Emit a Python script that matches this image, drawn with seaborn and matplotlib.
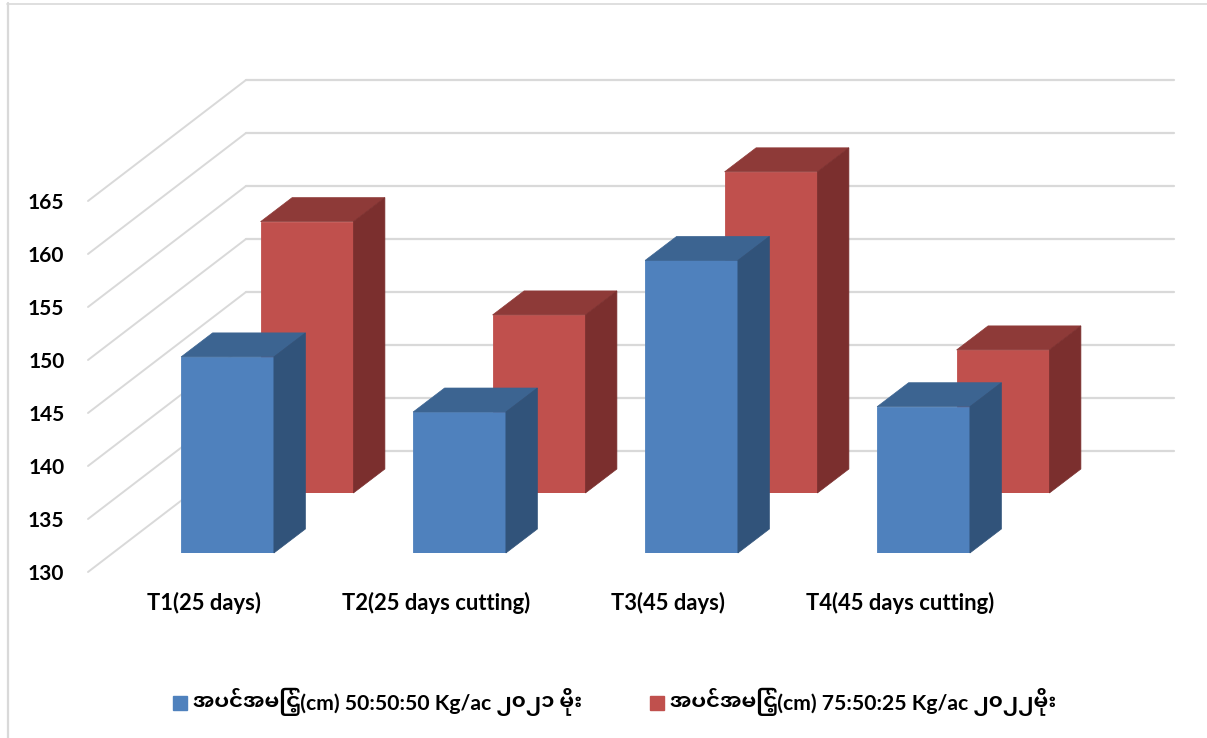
import matplotlib
matplotlib.use("Agg")
import matplotlib.pyplot as plt
from matplotlib.patches import Patch, Polygon
import seaborn as sns

# data
categories = ["T1(25 days)", "T2(25 days cutting)", "T3(45 days)", "T4(45 days cutting)"]
height_2021 = [148.5, 143.3, 157.6, 143.8]
height_2022 = [155.6, 146.8, 160.3, 143.5]
y_ticks = [130, 135, 140, 145, 150, 155, 160, 165]
label_2021 = "အပင်အမြင့်(cm) 50:50:50 Kg/ac ၂၀၂၁ မိုး"
label_2022 = "အပင်အမြင့်(cm) 75:50:25 Kg/ac ၂၀၂၂မိုး"

W, H = 1207, 738

# 3D look: every plane is the same axes moved back along the floor (pixels)
PLANE_L, PLANE_W, PLANE_BOTTOM, PLANE_H = 88, 928, 572, 371
BACK_SHIFT = (158, 121)
BLUE_SHIFT = (23.5, 19)
RED_SHIFT = (103, 79)
BAR_SHIFT = (31.5, 24)

sns.set_theme(style="white")
plt.rcParams["font.family"] = ["Lato", "Noto Sans Myanmar UI", "DejaVu Sans"]
plt.rcParams["font.weight"] = "bold"

fig = plt.figure(figsize=(W / 100, H / 100), dpi=100, facecolor="white")


def plane(shift, zorder):
    left = PLANE_L + shift[0]
    bottom = PLANE_BOTTOM - shift[1]
    ax = fig.add_axes([left / W, 1 - bottom / H, PLANE_W / W, PLANE_H / H], zorder=zorder)
    ax.patch.set_alpha(0)
    ax.set_xlim(-0.5, 3.5)
    ax.set_ylim(y_ticks[0], y_ticks[-1])
    return ax


def shift_in_data(shift):
    return shift[0] / PLANE_W * 4, shift[1] / PLANE_H * (y_ticks[-1] - y_ticks[0])


def bars_3d(ax, values, front, top, side):
    sns.barplot(x=categories, y=values, color=front, saturation=1, width=0.4,
                edgecolor=front, linewidth=0.6, ax=ax)
    ax.set_xlim(-0.5, 3.5)
    ax.set_ylim(y_ticks[0], y_ticks[-1])
    ax.axis("off")
    dx, dy = shift_in_data(BAR_SHIFT)
    base = y_ticks[0]
    for p in list(ax.patches):
        x0 = p.get_x()
        x1 = x0 + p.get_width()
        v = p.get_height()
        ax.add_patch(Polygon([(x0, v), (x1, v), (x1 + dx, v + dy), (x0 + dx, v + dy)],
                             closed=True, fc=top, ec=top, lw=0.5, clip_on=False))
        ax.add_patch(Polygon([(x1, base), (x1 + dx, base + dy), (x1 + dx, v + dy), (x1, v)],
                             closed=True, fc=side, ec=side, lw=0.5, clip_on=False))


# back wall and side wall gridlines
ax_back = plane(BACK_SHIFT, 1)
ax_back.axis("off")
dx_wall, dy_wall = shift_in_data(BACK_SHIFT)
for v in y_ticks:
    ax_back.plot([-0.5, 3.5], [v, v], color="#D9D9D9", lw=1.6, clip_on=False)
    ax_back.plot([-0.5 - dx_wall, -0.5], [v - dy_wall, v], color="#D9D9D9", lw=1.4, clip_on=False)

# front plane only carries the axis labels
ax_front = plane((0, 0), 2)
sns.despine(ax=ax_front, left=True, bottom=True, right=True, top=True)
ax_front.set_xticks(range(len(categories)))
ax_front.set_xticklabels(categories, fontsize=15.8, fontweight="bold", color="black")
ax_front.set_yticks(y_ticks)
ax_front.set_yticklabels(y_ticks, fontsize=15, fontweight="bold", color="black")
ax_front.tick_params(axis="x", length=0, pad=14)
ax_front.tick_params(axis="y", length=0, pad=17)

ax_red = plane(RED_SHIFT, 3)
bars_3d(ax_red, height_2022, "#C0504D", "#8E3A38", "#7B2F2E")

ax_blue = plane(BLUE_SHIFT, 4)
bars_3d(ax_blue, height_2021, "#4F81BD", "#3C6491", "#31537A")

# legend entries sit apart from each other, so one legend each
for label, color, x_px in [(label_2021, "#4F81BD", 173), (label_2022, "#C0504D", 650)]:
    fig.legend(handles=[Patch(color=color)], labels=[label], frameon=False,
               loc="center left", bbox_to_anchor=(x_px / W, 1 - 702 / H),
               prop={"family": ["Lato", "Noto Sans Myanmar UI"], "weight": "bold", "size": 15.2},
               handlelength=0.66, handleheight=0.66, handletextpad=0.3,
               borderaxespad=0, borderpad=0, labelcolor="black")

# chart frame
fig.add_artist(plt.Line2D([7.5 / W, 7.5 / W], [0, 1 - 3 / H], color="#D9D9D9", lw=1.6))
fig.add_artist(plt.Line2D([7 / W, 1], [1 - 3.5 / H, 1 - 3.5 / H], color="#D9D9D9", lw=1.2))

fig.savefig("out.png", dpi=100)
